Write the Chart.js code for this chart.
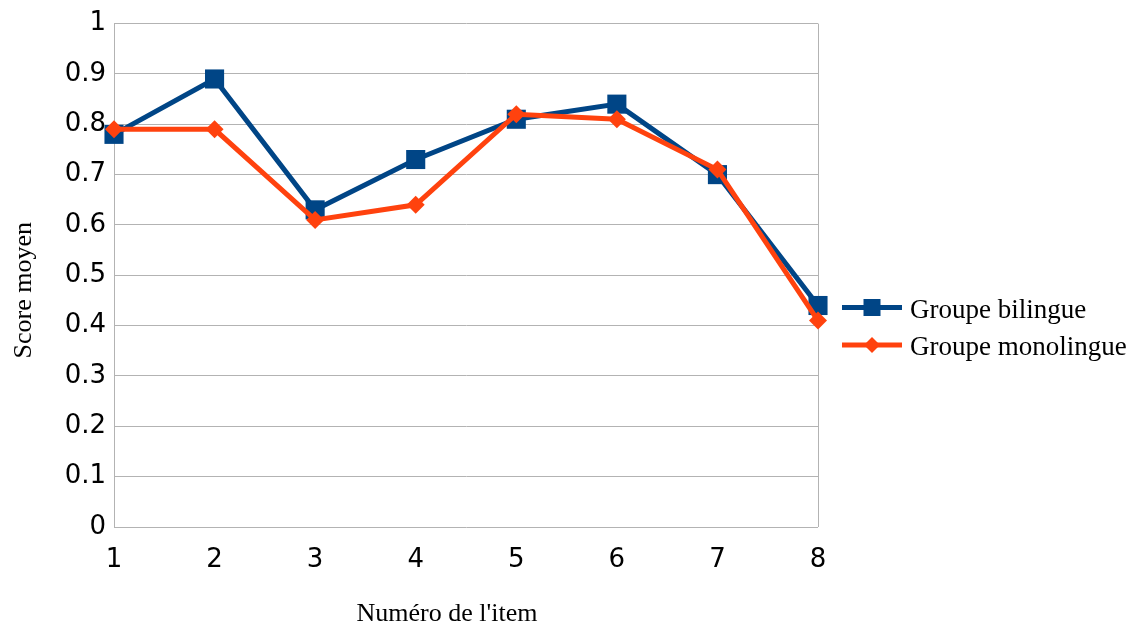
<!DOCTYPE html>
<html>
<head>
<meta charset="utf-8">
<script src="https://cdn.jsdelivr.net/npm/chart.js@4.4.1/dist/chart.umd.min.js"></script>
<style>
  html, body { margin: 0; padding: 0; background: #ffffff; }
  #wrap { width: 1138px; height: 628px; position: relative; }
</style>
</head>
<body>
<div id="wrap"><canvas id="c" width="1138" height="628"></canvas></div>
<script>
const categories = ['1', '2', '3', '4', '5', '6', '7', '8'];
const bilingue = [0.78, 0.89, 0.63, 0.73, 0.81, 0.84, 0.70, 0.44];
const monolingue = [0.79, 0.79, 0.61, 0.64, 0.82, 0.81, 0.71, 0.41];
const seriesNames = ['Groupe bilingue', 'Groupe monolingue'];
const yTickLabels = ['0', '0.1', '0.2', '0.3', '0.4', '0.5', '0.6', '0.7', '0.8', '0.9', '1'];
const xTitle = "Numéro de l'item";
const yTitle = 'Score moyen';

const BLUE = '#004586';
const ORANGE = '#ff420e';
const GRID = '#b3b3b3';
const serif = '"Liberation Serif", "Times New Roman", serif';

const extrasPlugin = {
  id: 'extras',
  afterDraw(chart) {
    const ctx = chart.ctx;
    const area = chart.chartArea;
    ctx.save();
    ctx.fillStyle = '#000';
    ctx.font = '26px ' + serif;
    // x title
    ctx.textAlign = 'center';
    ctx.textBaseline = 'alphabetic';
    ctx.fillText(xTitle, 447, 621);
    // y title
    ctx.save();
    ctx.translate(31, (area.top + area.bottom) / 2 + 15);
    ctx.rotate(-Math.PI / 2);
    ctx.fillText(yTitle, 0, 0);
    ctx.restore();
    // legend
    ctx.font = '27px ' + serif;
    const lx0 = area.right + 24;
    const lx1 = lx0 + 60;
    const ys = [307.5, 345];
    chart.data.datasets.forEach((ds, i) => {
      const y = ys[i];
      ctx.strokeStyle = ds.borderColor;
      ctx.lineWidth = 5;
      ctx.beginPath();
      ctx.moveTo(lx0, y);
      ctx.lineTo(lx1, y);
      ctx.stroke();
      ctx.fillStyle = ds.borderColor;
      const cx = (lx0 + lx1) / 2;
      ctx.beginPath();
      if (ds.pointStyle === 'rect') {
        ctx.rect(cx - 8.5, y - 8.5, 17, 17);
      } else {
        ctx.moveTo(cx - 8, y);
        ctx.lineTo(cx, y - 8);
        ctx.lineTo(cx + 8, y);
        ctx.lineTo(cx, y + 8);
        ctx.closePath();
      }
      ctx.fill();
      ctx.fillStyle = '#000';
      ctx.textAlign = 'left';
      ctx.textBaseline = 'alphabetic';
      ctx.fillText(ds.label, lx1 + 8, y + 10);
    });
    ctx.restore();
  }
};

new Chart(document.getElementById('c'), {
  type: 'line',
  data: {
    labels: categories,
    datasets: [
      {
        label: seriesNames[0],
        data: bilingue,
        borderColor: BLUE,
        backgroundColor: BLUE,
        borderWidth: 5,
        pointStyle: 'rect',
        pointRadius: 13.5,
        pointHoverRadius: 13.5,
        pointBorderWidth: 0,
        tension: 0,
        clip: false,
        order: 1
      },
      {
        label: seriesNames[1],
        data: monolingue,
        borderColor: ORANGE,
        backgroundColor: ORANGE,
        borderWidth: 5,
        pointStyle: 'rectRot',
        pointRadius: 9,
        pointHoverRadius: 9,
        pointBorderWidth: 0,
        tension: 0,
        clip: false,
        order: 0
      }
    ]
  },
  options: {
    responsive: false,
    animation: false,
    events: [],
    layout: { padding: { top: 21, right: 320, left: 0, bottom: 0 } },
    plugins: {
      legend: { display: false },
      tooltip: { enabled: false },
      title: { display: false }
    },
    scales: {
      x: {
        type: 'category',
        offset: false,
        grid: {
          display: true,
          drawTicks: false,
          color: (c) => (c.index === categories.length - 1 ? GRID : 'rgba(0,0,0,0)'),
          lineWidth: 1
        },
        border: { display: false },
        ticks: {
          color: '#000',
          font: { family: '"DejaVu Sans", sans-serif', size: 26 },
          padding: 18,
          maxRotation: 0,
          autoSkip: false
        },
        afterFit(scale) { scale.height = 101; }
      },
      y: {
        min: 0,
        max: 1,
        grid: { color: GRID, lineWidth: 1, drawTicks: false },
        border: { display: true, color: GRID, width: 1 },
        ticks: {
          stepSize: 0.1,
          color: '#000',
          font: { family: '"DejaVu Sans", sans-serif', size: 26 },
          padding: 8,
          callback: (v, i) => yTickLabels[i]
        },
        afterFit(scale) { scale.width = 114; }
      }
    }
  },
  plugins: [extrasPlugin]
});
</script>
</body>
</html>
